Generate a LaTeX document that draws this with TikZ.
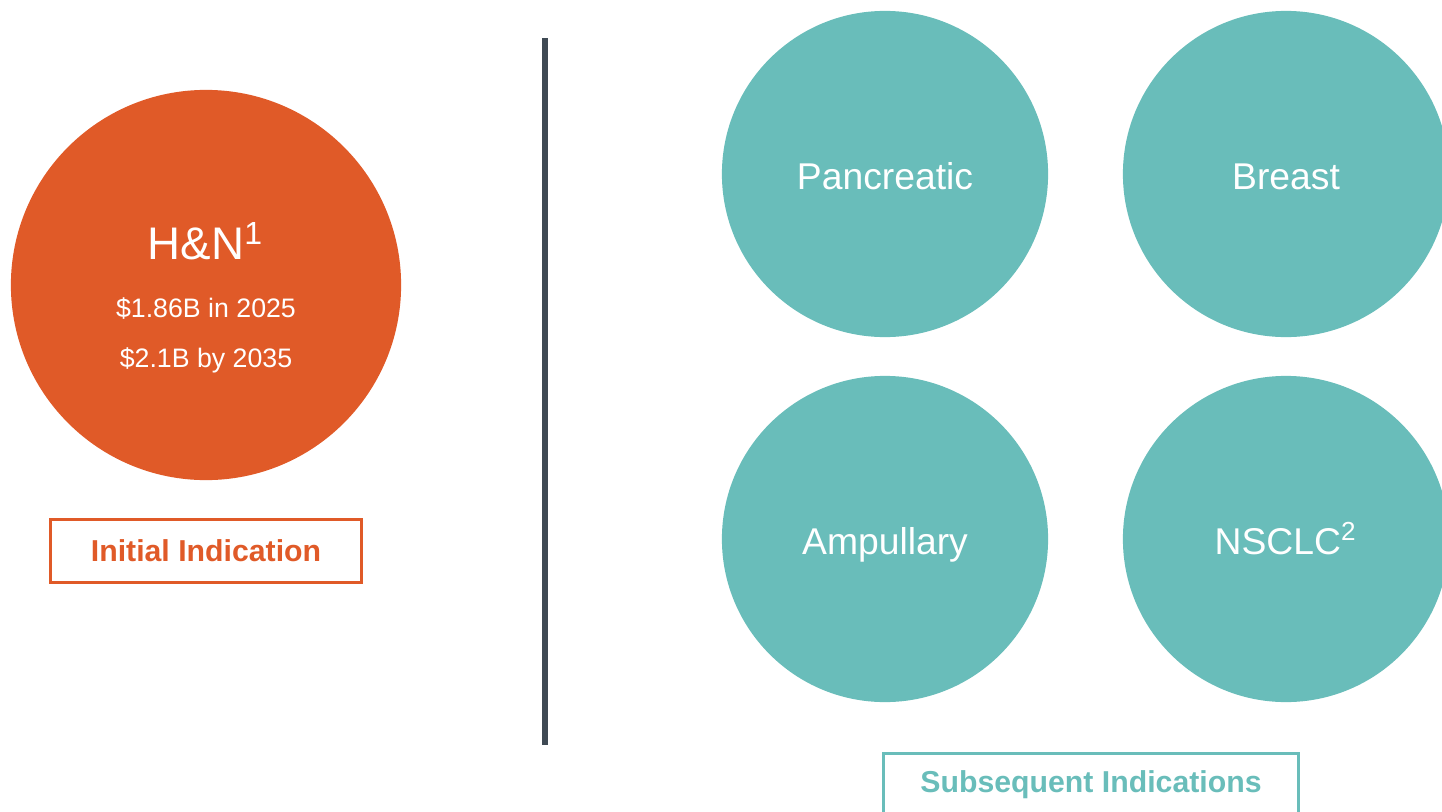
\documentclass[tikz,border=0pt]{standalone}
\usepackage{fontspec}
\setmainfont{Liberation Sans}
\usetikzlibrary{calc,positioning}

\definecolor{hnorange}{HTML}{E05A28}
\definecolor{indteal}{HTML}{69BDBA}
\definecolor{divgray}{HTML}{3F4A54}

\begin{document}
\begin{tikzpicture}[x=0.01cm, y=-0.01cm,
                    hn/.style     ={circle   ,fill=hnorange, minimum size=3.9cm, inner sep=0},
                    ind/.style    ={circle   ,fill=indteal, minimum size=3.26cm, inner sep=0, text=white,
                                    text height=0.88em, text depth=0pt,
                                    font=\fontsize{10.6}{12}\selectfont},
                    txt/.style    ={text=white, inner sep=0, text height=0.72em, text depth=0pt},
                    tag/.style    ={rectangle,draw, line width=0.85pt, inner sep=0, minimum height=0.63cm,
                                    font=\bfseries\fontsize{8.6}{10}\selectfont},
                    divider/.style={-        ,draw=divgray, line width=1.45pt}]

      \clip (0,0) rectangle (1442,812);
      \useasboundingbox (0,0) rectangle (1442,812);

      % initial indication
      \node[hn]  at(206, 285)              (hn)      {};
      \node[txt, font=\fontsize{13}{15}\selectfont] at($(hn)+(0,-38)$) (hntitle) {H\&N\textsuperscript{1}};
      \node[txt, font=\fontsize{7.6}{9}\selectfont] at($(hn)+(0, 20)$) (hn2025)  {\$1.86B in 2025};
      \node[txt, font=\fontsize{7.6}{9}\selectfont] at($(hn)+(0, 70)$) (hn2035)  {\$2.1B by 2035};
      \node[tag, draw=hnorange, text=hnorange, minimum width=3.1cm] at(206, 551) (init) {Initial Indication};

      % divider
      \coordinate (dtop) at(545,  38);
      \coordinate (dbot) at(545, 745);
      \path[divider] (dtop) -- (dbot);

      % subsequent indications
      \node[ind]  at(885, 174)              (panc)    {Pancreatic};
      \node[ind]  at($(panc)+(401,   0)$)   (breast)  {Breast};
      \node[ind]  at($(panc)+(  0, 365)$)   (ampul)   {Ampullary};
      \node[ind]  at($(ampul)+(401,  0)$)   (nsclc)   {NSCLC\textsuperscript{2}};
      \node[tag, draw=indteal, text=indteal, minimum width=4.14cm] at(1091, 785) (subs) {Subsequent Indications};
    \end{tikzpicture}
\end{document}
